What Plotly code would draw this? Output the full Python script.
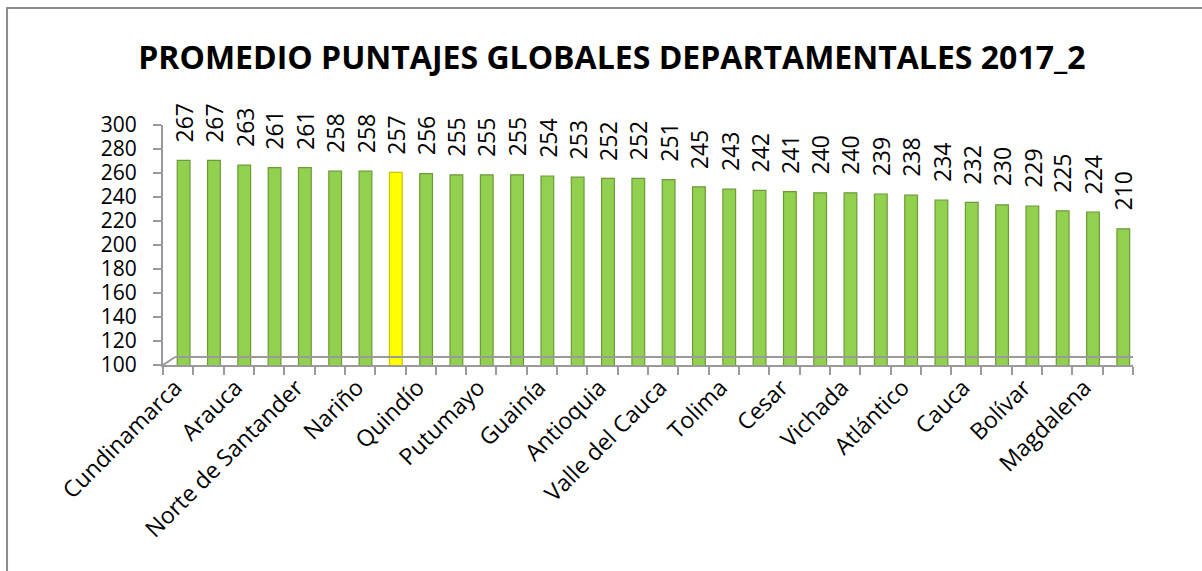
# Promedio puntajes globales por departamento, 2017_2
# 3D-ish Excel column chart rebuilt in plotly

import plotly.graph_objects as go

departamentos = ["Cundinamarca", "Boyacá", "Arauca", "Santander", "Norte de Santander",
                 "Bogotá D.C.", "Nariño", "Risaralda", "Quindío", "Caldas", "Putumayo",
                 "Huila", "Guainía", "Meta", "Antioquia", "Casanare", "Valle del Cauca",
                 "San Andrés", "Tolima", "Caquetá", "Cesar", "Guaviare", "Vichada",
                 "Amazonas", "Atlántico", "Sucre", "Cauca", "Córdoba", "Bolívar",
                 "La Guajira", "Magdalena", "Chocó"]
puntajes = [267, 267, 263, 261, 261, 258, 258, 257, 256, 255, 255, 255, 254, 253, 252, 252,
            251, 245, 243, 242, 241, 240, 240, 239, 238, 234, 232, 230, 229, 225, 224, 210]
resaltado = "Risaralda"   # the yellow one
y_ticks = [100, 120, 140, 160, 180, 200, 220, 240, 260, 280, 300]

idx = list(range(len(departamentos)))
colores = ["#ffff00" if d == resaltado else "#92d050" for d in departamentos]
bordes = ["#c9c400" if d == resaltado else "#6c9a34" for d in departamentos]

FONT = "Open Sans"
GRIS = "#9a9a9a"

# bars sit a bit "behind" the front edge of the floor -> own hidden y axis, shifted
bars = go.Bar(x=idx, y=puntajes, yaxis="y2",
              width=0.42, offset=-0.03,
              marker=dict(color=colores, line=dict(color=bordes, width=1.2)),
              hovertext=departamentos, showlegend=False)

fig = go.Figure(data=[bars])

# value labels, rotated like excel
for i, v in zip(idx, puntajes):
    fig.add_annotation(x=i + 0.18, y=v, xref="x", yref="y2",
                       text=str(v), textangle=-90, showarrow=False,
                       yanchor="bottom", yshift=16,
                       font=dict(family=FONT, size=23, color="black"))

# floor of the 3d plot
floor = dict(type="line", xref="x", yref="y", line=dict(color=GRIS, width=2))
fig.add_shape(x0=-0.1, y0=106.7, x1=31.96, y1=106.7, **floor)
fig.add_shape(x0=-0.5, y0=100, x1=-0.1, y1=106.7, **floor)
fig.add_shape(x0=31.5, y0=100, x1=31.96, y1=106.7, **floor)

# outer chart border (cut on right / bottom in the original)
fig.add_shape(type="rect", xref="paper", yref="paper",
              x0=-0.1608, y0=-0.95, x1=1.1, y1=1.4875,
              line=dict(color="#8c8c8c", width=2), fillcolor="rgba(0,0,0,0)")

fig.update_layout(
    width=1202, height=571,
    margin=dict(l=163, r=69, t=125, b=206),
    paper_bgcolor="white", plot_bgcolor="white",
    title=dict(text="<b>PROMEDIO PUNTAJES GLOBALES DEPARTAMENTALES 2017_2</b>",
               x=0.509, xref="container", xanchor="center",
               y=0.899, yref="container", yanchor="middle",
               font=dict(family=FONT, size=32, color="black")),
    xaxis=dict(range=[-0.5, 31.5], showgrid=False, zeroline=False, automargin=False,
               showline=True, linecolor=GRIS, linewidth=2,
               tickmode="array", tickvals=idx[::2], ticktext=departamentos[::2],
               ticks="", tickangle=-45, ticklabelstandoff=-2, ticklabelshift=-3,
               tickfont=dict(family=FONT, size=23, color="black"),
               minor=dict(tickmode="array", tickvals=[i - 0.5 for i in range(len(idx) + 1)],
                          ticks="outside", ticklen=8, tickcolor=GRIS, tickwidth=2)),
    yaxis=dict(range=[100, 300], showgrid=False, zeroline=False, automargin=False,
               showline=True, linecolor=GRIS, linewidth=2,
               tickmode="array", tickvals=y_ticks,
               ticks="outside", ticklen=8, tickcolor=GRIS, tickwidth=2,
               ticklabelstandoff=12,
               tickfont=dict(family=FONT, size=21, color="black")),
    yaxis2=dict(range=[96.5, 296.5], overlaying="y", visible=False),
)

# page body has a default margin of 8px, drop it so the chart sits at 0,0
fig.write_html("out.html", config={"displayModeBar": False},
               post_script="document.body.style.margin='0';")
